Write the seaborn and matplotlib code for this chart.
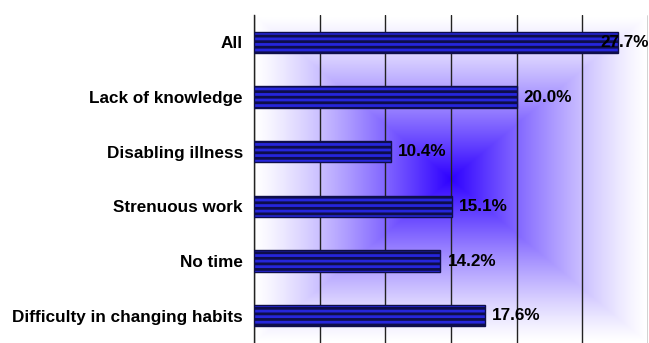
import numpy as np
import pandas as pd
import matplotlib
matplotlib.use("Agg")
import matplotlib.pyplot as plt
from matplotlib.colors import LinearSegmentedColormap
import seaborn as sns

categories = ["All", "Lack of knowledge", "Disabling illness", "Strenuous work",
              "No time", "Difficulty in changing habits"]
values = [27.7, 20.0, 10.4, 15.1, 14.2, 17.6]
value_labels = ["27.7%", "20.0%", "10.4%", "15.1%", "14.2%", "17.6%"]

df = pd.DataFrame({"reason": categories, "pct": values})

sns.set_style("white")
plt.rcParams["font.family"] = ["Liberation Sans", "DejaVu Sans"]
plt.rcParams["hatch.linewidth"] = 2.0
plt.rcParams["text.color"] = "black"
plt.rcParams["ytick.color"] = "black"

fig = plt.figure(figsize=(6.49, 3.43), dpi=100)
ax = fig.add_axes([254 / 649, 0.0, 394 / 649, 328 / 343])

# rectangular gradient background: blue centre fading to white at the edges
n = 400
u = np.linspace(-1, 1, n)
U, V = np.meshgrid(u, u)
t = 1 - np.maximum(np.abs(U), np.abs(V))
t = np.clip(t, 0, 1) ** 1.25
cmap = LinearSegmentedColormap.from_list("bg", ["#ffffff", "#2e00ff"])
ax.imshow(t, cmap=cmap, vmin=0, vmax=1, extent=[0, 30, 5.5, -0.5],
          aspect="auto", zorder=0, interpolation="bilinear")

sns.barplot(data=df, x="pct", y="reason", orient="h", color="#2626dc",
            width=0.39, edgecolor="#0e0e4a", linewidth=1.0, ax=ax, zorder=3,
            saturation=1)
for p in ax.patches:
    p.set_hatch("---")

ax.set_xlim(0, 30)
ax.set_ylim(5.5, -0.5)
ax.set_xticks(np.arange(0, 31, 5))
ax.set_xticklabels([])
ax.tick_params(axis="x", length=0)
ax.grid(axis="x", color="#222222", linewidth=1.0)
for gl in ax.get_xgridlines():
    gl.set_zorder(1)

ax.set_yticks(range(len(categories)))
ax.set_yticklabels(categories, fontsize=12.3, fontweight="bold")
ax.set_yticks(np.arange(-0.5, 5.6, 1), minor=True)
ax.tick_params(axis="y", which="major", length=0, pad=8)
ax.tick_params(axis="y", which="minor", length=6, width=1, color="#222222")
ax.set_xlabel("")
ax.set_ylabel("")

for s in ["top", "right", "bottom"]:
    ax.spines[s].set_visible(False)
ax.spines["left"].set_color("#222222")
ax.spines["left"].set_linewidth(1.0)

for i, (v, lab) in enumerate(zip(values, value_labels)):
    if v > 26:
        ax.text(30.05, i, lab, ha="right", va="center", fontsize=12.3,
                fontweight="bold", zorder=5, clip_on=False)
    else:
        ax.annotate(lab, (v, i), xytext=(5, 0), textcoords="offset points",
                    ha="left", va="center", fontsize=12.3, fontweight="bold",
                    zorder=5)

fig.savefig("out.png", dpi=100)
